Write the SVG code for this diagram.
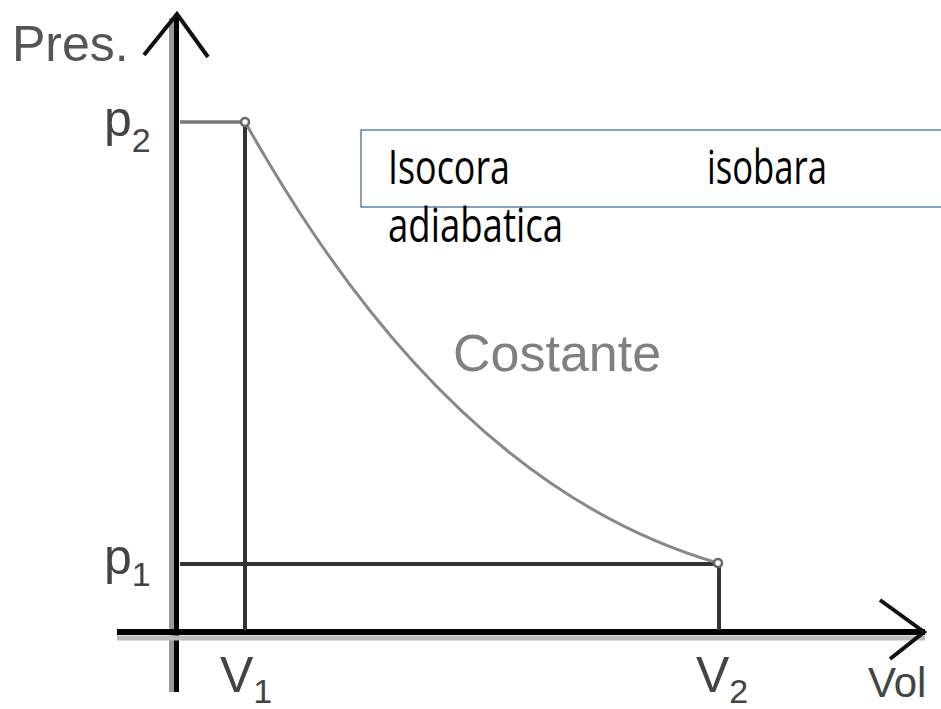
<svg xmlns="http://www.w3.org/2000/svg" width="941" height="709" viewBox="0 0 941 709">
<style>
.lbl{font-family:"Liberation Sans",Arial,sans-serif;fill:#444}
.box{font-family:"Open Sans","Noto Sans",sans-serif;fill:#000;font-size:47px}
.ln{stroke:#333;stroke-width:4;fill:none}
.pt{fill:#fff;stroke:#666;stroke-width:2.5}
</style>
<rect width="941" height="709" fill="#fff"/>
<g id="connectors">
<line x1="171.5" y1="18" x2="171.5" y2="692" stroke="#999" stroke-width="5"/>
<line x1="176.5" y1="14" x2="176.5" y2="692" stroke="#000" stroke-width="5"/>
<line x1="117" y1="638" x2="925" y2="638" stroke="#bbb" stroke-width="5"/>
<line x1="117" y1="632" x2="925" y2="632" stroke="#000" stroke-width="6"/>
<polyline points="144,55 177,14 208,57" fill="none" stroke="#111" stroke-width="4"/>
<polyline points="880,600 924,632 890,659" fill="none" stroke="#111" stroke-width="4"/>
<line x1="180" y1="122" x2="243" y2="122" stroke="#777" stroke-width="3.5"/>
<line class="ln" x1="245" y1="126" x2="245" y2="630"/>
<line class="ln" x1="180" y1="564" x2="714" y2="564"/>
<line class="ln" x1="719" y1="567" x2="719" y2="630"/>
<path d="M245,122 C315,245 465,490 718,563" fill="none" stroke="#888" stroke-width="3"/>
</g>
<g id="point-a"><circle class="pt" cx="245" cy="122" r="4"/></g>
<g id="point-b"><circle class="pt" cx="718" cy="563" r="4"/></g>
<g id="labels">
<text class="lbl" x="12" y="61" font-size="50" style="fill:#555">Pres.</text>
<text class="lbl" x="104" y="136" font-size="50">p<tspan font-size="34" dy="16">2</tspan></text>
<text class="lbl" x="104" y="574" font-size="50">p<tspan font-size="34" dy="12">1</tspan></text>
<text class="lbl" x="220" y="692" font-size="50">V<tspan font-size="34" dy="11">1</tspan></text>
<text class="lbl" x="696" y="692" font-size="50">V<tspan font-size="34" dy="11">2</tspan></text>
<text class="lbl" x="868" y="697" font-size="42">Vol</text>
<text class="lbl" x="453" y="371" font-size="52" style="fill:#808080">Costante</text>
</g>
<g id="textbox">
<rect x="361" y="130" width="600" height="77" fill="none" stroke="#41719c" stroke-width="1.3"/>
<text class="box" x="388" y="184" textLength="122" lengthAdjust="spacingAndGlyphs">Isocora</text>
<text class="box" x="707" y="184" textLength="120" lengthAdjust="spacingAndGlyphs">isobara</text>
<text class="box" x="388" y="242" textLength="175" lengthAdjust="spacingAndGlyphs">adiabatica</text>
</g>
</svg>
